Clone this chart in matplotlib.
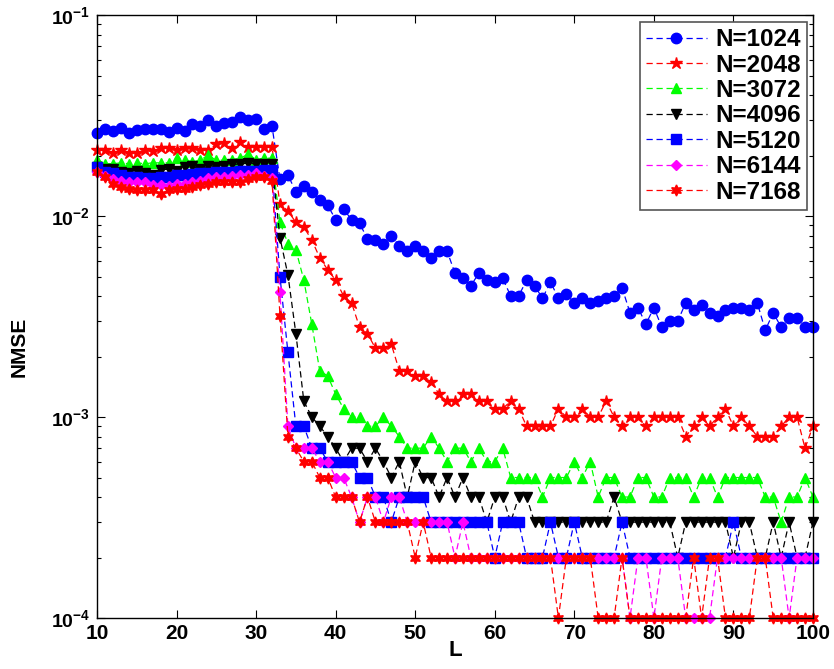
import numpy as np
import matplotlib
matplotlib.use('Agg')
import matplotlib.pyplot as plt
from matplotlib.ticker import FixedLocator, FixedFormatter, LogLocator, NullFormatter

### ======================================================================
### NMSE versus L for several training lengths N (values in units of 1e-4)
### ======================================================================

L = np.arange(10, 101)

nmse_1024 = [260, 270, 266, 275, 260, 267, 270, 270, 270, 263, 275, 266, 286, 282, 300, 282, 290, 295, 310, 300, 305, 270, 280,
             152, 160, 132, 141, 132, 120, 113, 96, 108, 96, 92, 77, 76, 73, 80, 71, 67, 71, 67, 62, 67, 67, 52,
             49, 45, 52, 48, 47, 49, 40, 40, 48, 45, 39, 47, 39, 41, 37, 39, 37, 38, 39, 40, 44,
             33, 35, 29, 35, 28, 30, 30, 37, 34, 36, 33, 32, 34, 35, 35, 34, 37, 27, 33, 28, 31, 31, 28, 28]

nmse_2048 = [213, 212, 206, 213, 206, 206, 212, 210, 217, 217, 212, 217, 217, 213, 212, 228, 232, 217, 234, 220, 220, 220, 220,
             115, 106, 93, 88, 76, 62, 54, 48, 40, 37, 28, 26, 22, 22, 23,
             17, 17, 16, 16, 15, 13, 12, 12, 13, 13, 12, 12, 11, 11, 12, 11, 9, 9, 9, 9, 11, 10, 10, 11, 10, 10, 12, 10, 9,
             10, 10, 9, 10, 10, 10, 10, 8, 9, 10, 9, 10, 11, 9, 10, 9, 8, 8, 8, 9, 10, 10, 7, 9]

nmse_3072 = [191, 182, 182, 184, 182, 184, 182, 184, 184, 184, 194, 191, 186, 190, 201, 189, 190, 191, 194, 203, 191, 194, 194,
             93, 73, 68, 48, 29,
             17, 16, 13, 11, 10, 10, 9, 9, 10, 9, 8, 7, 7, 7, 8, 7,
             6, 7, 7, 6, 7, 6, 6, 7, 5, 5, 5, 5, 4, 5, 5, 5, 6, 5, 6, 4, 5, 5, 4,
             4, 5, 5, 4, 4, 5, 5, 5, 4, 5, 5, 4, 5, 5, 5, 5, 5, 4, 4, 3, 4, 4, 5, 4]

nmse_4096 = [175, 171, 171, 166, 164, 168, 164, 160, 170, 171, 168, 175, 177, 171, 177, 175, 177, 181, 181, 184, 181, 181, 181,
             78, 51, 26, 12, 10, 9, 8, 7, 6, 7, 7, 6, 7, 6, 5, 6, 4, 6, 5, 5, 4, 5, 4, 5, 4, 4,
             3, 4, 4, 3, 4, 4, 3, 3, 3, 3, 3, 3, 3, 3, 3, 3, 4, 3, 3, 3, 3, 3, 3, 3,
             2, 3, 3, 3, 3, 3, 3, 2, 3, 3, 2, 2, 3, 2, 3, 2, 2, 3]

nmse_5120 = [175, 165, 163, 160, 157, 157, 155, 155, 157, 157, 160, 160, 161, 163, 163, 165, 166, 166, 168, 168, 168, 170, 170,
             50, 21, 9, 9, 7, 7, 6, 6, 6, 6, 5, 5, 4, 4, 3, 4, 4, 4, 4, 3, 3, 3, 3, 3, 3, 3, 3,
             2, 3, 3, 3, 2, 2, 2, 3, 2, 2, 3, 2, 2, 2, 2, 2, 3,
             2, 2, 2, 2, 2, 2, 2, 2, 2, 2, 2, 2, 2, 3, 2, 2, 2, 2, 2, 2, 2, 2, 2, 2]

nmse_6144 = [166, 158, 152, 150, 148, 148, 147, 143, 143, 141, 144, 144, 148, 150, 154, 156, 156, 158, 160, 160, 164, 158, 154,
             42, 9, 7, 7, 7, 6, 6, 5, 5, 4, 3, 4, 4, 3, 4, 4, 3, 3, 3, 3, 3, 3, 2, 3,
             2, 2, 2, 2, 2, 2, 2, 2, 2, 2, 2, 2, 2, 2, 2, 2, 2, 2, 2, 2,
             1, 2, 2, 1, 2, 2, 2, 1, 1, 1, 1, 2, 2, 2, 2, 2, 2, 2, 2, 2, 1, 2, 2, 2]

nmse_7168 = [166, 156, 144, 140, 137, 135, 134, 135, 129, 134, 137, 137, 139, 143, 144, 147, 148, 147, 147, 152, 156, 156, 150,
             32, 8, 7, 6, 6, 5, 5, 4, 4, 4, 3, 4, 3, 3, 3, 3, 3, 2, 3,
             2, 2, 2, 2, 2, 2, 2, 2, 2, 2, 2, 2, 2, 2, 2, 2, 1, 2, 2, 2, 2, 1, 1, 1, 2,
             1, 1, 1, 1, 1, 1, 1, 1, 2, 1, 2, 2, 1, 1, 1, 1, 2, 2, 1, 1, 1, 1, 1, 1]

series = [nmse_1024, nmse_2048, nmse_3072, nmse_4096, nmse_5120, nmse_6144, nmse_7168]
labels = ['N=1024', 'N=2048', 'N=3072', 'N=4096', 'N=5120', 'N=6144', 'N=7168']
colors = ['#0000ff', '#ff0000', '#00ff00', '#000000', '#0000ff', '#ff00ff', '#ff0000']
markers = ['o', '*', '^', 'v', 's', 'D', (6, 1, 0)]
msizes = [7.5, 9, 7.5, 7.5, 6.5, 5.5, 8]

plt.rcParams['font.family'] = 'Liberation Sans'
plt.rcParams['font.weight'] = 'bold'
plt.rcParams['mathtext.fontset'] = 'custom'
plt.rcParams['mathtext.rm'] = 'Liberation Sans:bold'
plt.rcParams['mathtext.bf'] = 'Liberation Sans:bold'
plt.rcParams['mathtext.default'] = 'bf'

fig = plt.figure(figsize=(8.34, 6.69), dpi=100)
ax = fig.add_axes([0.1163, 0.0762, 0.8585, 0.9013])

for vals, lab, c, m, ms in zip(series, labels, colors, markers, msizes):
    y = np.array(vals) * 1e-4
    ax.plot(L, y, linestyle='--', dashes=(5, 3), color=c, lw=0.9, marker=m, ms=ms,
            mec=c, mfc=c, label=lab, clip_on=False)

ax.set_yscale('log')
ax.set_xlim(10, 100)
ax.set_ylim(1e-4, 1e-1)

ax.xaxis.set_major_locator(FixedLocator(np.arange(10, 101, 10)))
ax.yaxis.set_major_locator(FixedLocator([1e-4, 1e-3, 1e-2, 1e-1]))
ax.yaxis.set_major_formatter(FixedFormatter([r'$10^{-4}$', r'$10^{-3}$', r'$10^{-2}$', r'$10^{-1}$']))
ax.yaxis.set_minor_locator(LogLocator(base=10, subs=np.arange(2, 10), numticks=20))
ax.yaxis.set_minor_formatter(NullFormatter())

ax.tick_params(which='both', direction='in', top=True, right=True, width=0.8)
ax.tick_params(axis='x', which='major', labelsize=15, length=6, pad=4)
ax.tick_params(axis='y', which='major', labelsize=14, length=6, pad=5)
ax.tick_params(which='minor', length=3)
for s in ax.spines.values():
    s.set_linewidth(1.0)

ax.set_xlabel('L', fontsize=16, fontweight='bold', labelpad=-2)
ax.set_ylabel('NMSE', fontsize=15, fontweight='bold', labelpad=6)
ax.yaxis.set_label_coords(-0.095, 0.45)

leg = ax.legend(loc='upper right', bbox_to_anchor=(0.9916, 0.9884), borderaxespad=0,
                fontsize=17.5, numpoints=1, handlelength=2.5, handletextpad=0.35,
                labelspacing=0.1, borderpad=0.25, fancybox=False, framealpha=1)
leg.get_frame().set_edgecolor('#555555')
leg.get_frame().set_linewidth(1.2)
for t in leg.get_texts():
    t.set_fontweight('bold')

plt.savefig('out.png', dpi=100)
